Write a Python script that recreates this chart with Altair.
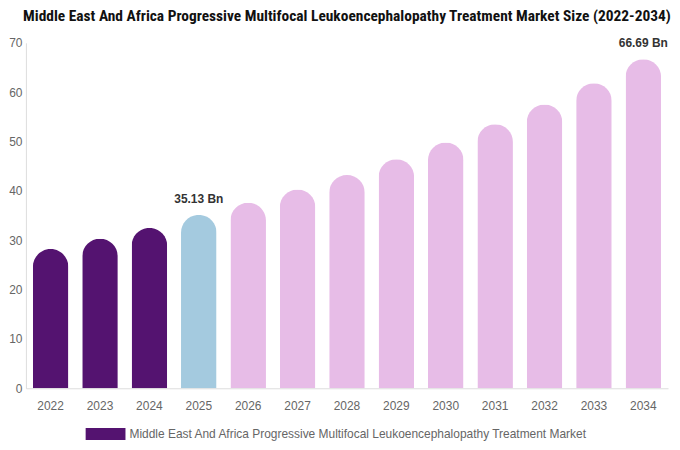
import altair as alt
import pandas as pd

years = ["2022", "2023", "2024", "2025", "2026", "2027", "2028", "2029", "2030", "2031", "2032", "2033", "2034"]
values = [28.2, 30.3, 32.5, 35.13, 37.6, 40.3, 43.2, 46.4, 49.8, 53.5, 57.5, 61.8, 66.69]
phases = ["hist", "hist", "hist", "base", "fc", "fc", "fc", "fc", "fc", "fc", "fc", "fc", "fc"]
labels = ["", "", "", "35.13 Bn", "", "", "", "", "", "", "", "", "66.69 Bn"]
series_name = "Middle East And Africa Progressive Multifocal Leukoencephalopathy Treatment Market"
title_text = "Middle East And Africa Progressive Multifocal Leukoencephalopathy Treatment Market Size (2022-2034)"

df = pd.DataFrame({
    "year": years,
    "value": values,
    "phase": phases,
    "label": labels,
    "series": [series_name] * len(years),
})

x_enc = alt.X("year:N", sort=years, title=None,
              scale=alt.Scale(paddingInner=0.28, paddingOuter=0.14),
              axis=alt.Axis(labelAngle=0, ticks=False, labelColor="#666666", labelFontSize=12,
                            labelPadding=12, domainColor="#dddddd", labelFont="Liberation Sans"))
y_enc = alt.Y("value:Q", title=None,
              scale=alt.Scale(domain=[0, 70], nice=False),
              axis=alt.Axis(values=[0, 10, 20, 30, 40, 50, 60, 70], grid=False, ticks=False,
                            labelColor="#666666", labelFontSize=12, labelPadding=4,
                            domainColor="#dddddd", labelFont="Liberation Sans"))

bars = alt.Chart(df).mark_bar(cornerRadiusTopLeft=18, cornerRadiusTopRight=18).encode(
    x=x_enc,
    y=y_enc,
    fill=alt.Fill("phase:N", scale=alt.Scale(domain=["hist", "base", "fc"],
                                            range=["#541370", "#A4CADF", "#E7BCE7"]), legend=None),
)

legend_layer = alt.Chart(df).mark_point(filled=True, opacity=0).encode(
    x=alt.X("year:N", sort=years),
    y="value:Q",
    color=alt.Color("series:N", scale=alt.Scale(domain=[series_name], range=["#541370"]),
                    legend=alt.Legend(title=None, orient="none", legendX=60, legendY=373,
                                      direction="horizontal",
                                      symbolType="M-1,-0.3L1,-0.3L1,0.3L-1,0.3Z", symbolSize=1600,
                                      symbolOpacity=1, symbolStrokeWidth=0,
                                      labelFontSize=12, labelColor="#666666",
                                      labelFont="Liberation Sans", labelLimit=600)),
)

text = alt.Chart(df).transform_filter(alt.datum.label != "").mark_text(
    baseline="bottom", dy=-9, fontSize=12, fontWeight="bold", color="#333333", font="Liberation Sans"
).encode(x=alt.X("year:N", sort=years), y="value:Q", text="label:N")

chart = alt.layer(bars, legend_layer, text).properties(
    width=645, height=347,
    padding={"left": 0, "top": 0, "right": 0, "bottom": 0},
    title=alt.TitleParams(title_text, fontSize=15.5, font="Roboto Condensed, DejaVu Sans Condensed, sans-serif",
                          fontWeight="bold", color="#111111", anchor="middle", offset=12),
).configure_view(stroke=None)

chart.save("out.html", embed_options={"renderer": "svg", "actions": False})
